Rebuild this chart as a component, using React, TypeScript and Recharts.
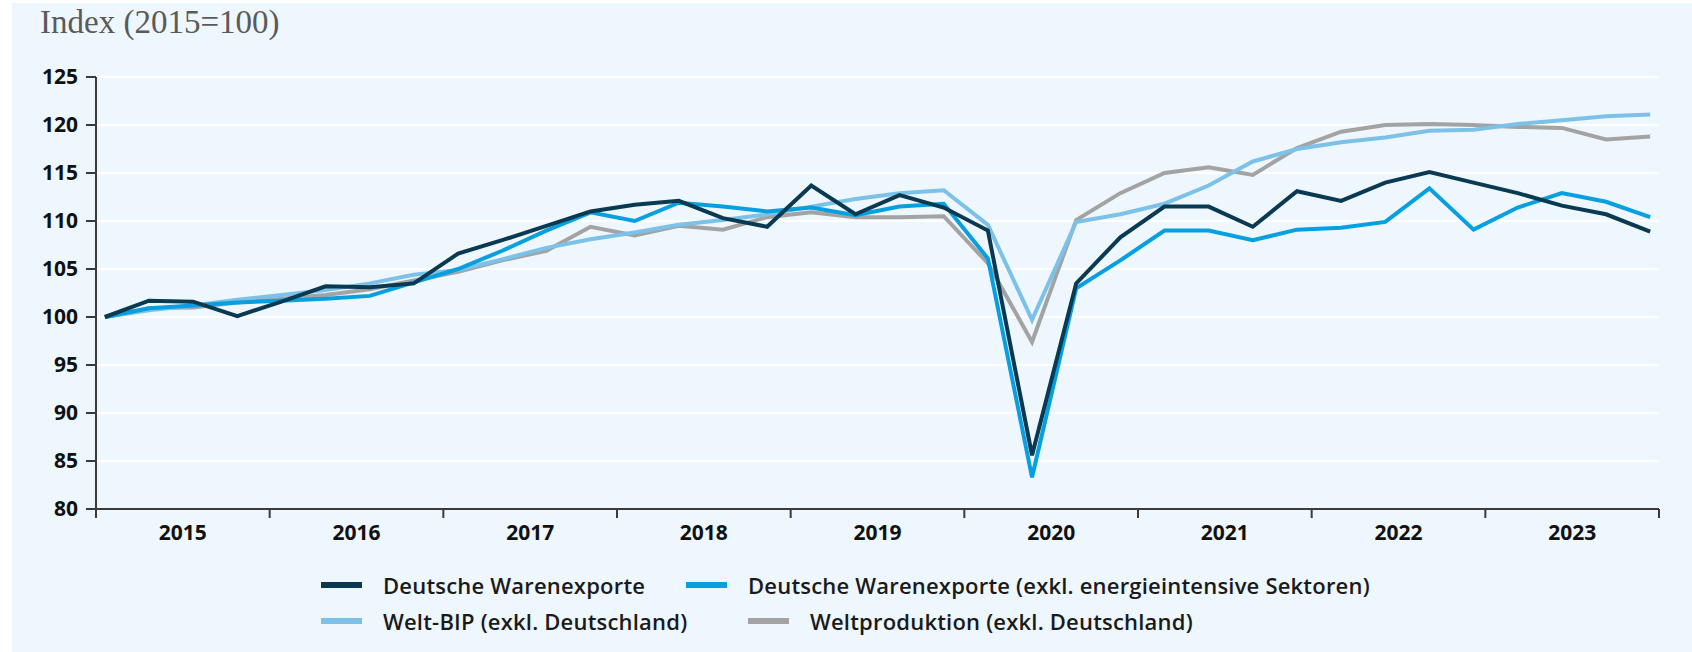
import { LineChart, Line, XAxis, YAxis, CartesianGrid } from 'recharts'

const years = ['2015', '2016', '2017', '2018', '2019', '2020', '2021', '2022', '2023']
const quarters = years.flatMap((y) => ['Q1', 'Q2', 'Q3', 'Q4'].map((q) => `${y} ${q}`))

// Deutsche Warenexporte
const exportsTotal = [
  100.0, 101.7, 101.6, 100.1, 101.6, 103.2, 103.1, 103.5,
  106.6, 108.0, 109.5, 111.0, 111.7, 112.1, 110.3, 109.4,
  113.7, 110.7, 112.7, 111.4, 109.0, 85.6, 103.5, 108.3,
  111.5, 111.5, 109.4, 113.1, 112.1, 114.0, 115.1, 114.0,
  112.9, 111.6, 110.7, 108.9,
]
// Deutsche Warenexporte (exkl. energieintensive Sektoren)
const exportsExcl = [
  100.0, 100.9, 101.2, 101.5, 101.7, 101.9, 102.2, 103.6,
  105.0, 106.9, 109.0, 110.9, 110.0, 111.9, 111.5, 111.0,
  111.4, 110.6, 111.5, 111.8, 106.1, 83.3, 103.0, 105.9,
  109.0, 109.0, 108.0, 109.1, 109.3, 109.9, 113.4, 109.1,
  111.4, 112.9, 112.0, 110.4,
]
// Welt-BIP (exkl. Deutschland)
const worldGdp = [
  100.0, 100.7, 101.2, 101.8, 102.3, 102.8, 103.5, 104.4,
  104.9, 106.0, 107.2, 108.1, 108.8, 109.6, 110.1, 110.7,
  111.5, 112.3, 112.9, 113.2, 109.6, 99.7, 109.9, 110.7,
  111.8, 113.7, 116.2, 117.5, 118.2, 118.7, 119.4, 119.5,
  120.1, 120.5, 120.9, 121.1,
]
// Weltproduktion (exkl. Deutschland)
const worldProd = [
  100.0, 100.9, 101.0, 101.5, 101.9, 102.3, 102.9, 103.8,
  104.7, 105.9, 106.9, 109.4, 108.5, 109.5, 109.1, 110.4,
  110.9, 110.4, 110.4, 110.5, 105.6, 97.4, 110.1, 112.9,
  115.0, 115.6, 114.8, 117.6, 119.3, 120.0, 120.1, 120.0,
  119.8, 119.7, 118.5, 118.8,
]

const yTicks = [80, 85, 90, 95, 100, 105, 110, 115, 120, 125]

const data = quarters.map((label, i) => ({
  idx: i,
  label,
  exportsTotal: exportsTotal[i],
  exportsExcl: exportsExcl[i],
  worldGdp: worldGdp[i],
  worldProd: worldProd[i],
}))

// x range is a bit wider than the data so the year ticks sit outside the first/last quarter
const X_MIN = -0.2
const X_MAX = 35.2
const YEAR_SPAN = (X_MAX - X_MIN) / years.length
const yearEdges = [...years.map((_, i) => X_MIN + i * YEAR_SPAN), X_MAX]
const yearMids = years.map((_, i) => X_MIN + (i + 0.5) * YEAR_SPAN)

const COLORS = {
  exportsTotal: '#0a3a52',
  exportsExcl: '#069fe0',
  worldGdp: '#7cc2e8',
  worldProd: '#a3a3a3',
}

const legendItems = [
  { key: 'exportsTotal', name: 'Deutsche Warenexporte', left: 309, top: 567 },
  { key: 'exportsExcl', name: 'Deutsche Warenexporte (exkl. energieintensive Sektoren)', left: 674, top: 567 },
  { key: 'worldGdp', name: 'Welt-BIP (exkl. Deutschland)', left: 309, top: 603 },
  { key: 'worldProd', name: 'Weltproduktion (exkl. Deutschland)', left: 736, top: 603 },
]

const tickFont = { fontFamily: "'Open Sans', sans-serif", fontWeight: 700, fontSize: 21, fill: '#111' }
const axisStroke = { stroke: '#3b3b3b', strokeWidth: 2 }

export default function App() {
  return (
    <div
      style={{
        position: 'absolute',
        left: 12,
        top: 3,
        width: 1680,
        height: 649,
        background: '#eef6fe',
        fontFamily: "'Open Sans', sans-serif",
      }}
    >
      <div
        style={{
          position: 'absolute',
          left: 28,
          top: 0,
          fontFamily: "'Liberation Serif', serif",
          fontSize: 33,
          color: '#5a5a5a',
          lineHeight: '38px',
        }}
      >
        Index (2015=100)
      </div>

      <LineChart
        width={1680}
        height={546}
        data={data}
        margin={{ top: 74, right: 33, left: 24, bottom: 0 }}
        style={{ position: 'absolute', left: 0, top: 0 }}
      >
        <CartesianGrid horizontal vertical={false} stroke="#ffffff" strokeWidth={2} />
        <XAxis
          dataKey="idx"
          type="number"
          domain={[X_MIN, X_MAX]}
          ticks={yearEdges}
          tickFormatter={() => ''}
          height={10}
          tickSize={9}
          axisLine={axisStroke}
          tickLine={axisStroke}
          interval={0}
        />
        <XAxis
          xAxisId="years"
          dataKey="idx"
          type="number"
          domain={[X_MIN, X_MAX]}
          ticks={yearMids}
          tickFormatter={(v: number) => years[yearMids.indexOf(v)] ?? ''}
          height={30}
          tickSize={0}
          tickMargin={6}
          axisLine={false}
          tickLine={false}
          interval={0}
          tick={tickFont}
        />
        <YAxis
          domain={[80, 125]}
          ticks={yTicks}
          width={60}
          tickSize={10}
          tickMargin={8}
          axisLine={axisStroke}
          tickLine={axisStroke}
          interval={0}
          tick={tickFont}
        />
        <Line dataKey="worldProd" name="Weltproduktion (exkl. Deutschland)" stroke={COLORS.worldProd} strokeWidth={4} dot={false} isAnimationActive={false} />
        <Line dataKey="worldGdp" name="Welt-BIP (exkl. Deutschland)" stroke={COLORS.worldGdp} strokeWidth={4} dot={false} isAnimationActive={false} />
        <Line dataKey="exportsExcl" name="Deutsche Warenexporte (exkl. energieintensive Sektoren)" stroke={COLORS.exportsExcl} strokeWidth={4} dot={false} isAnimationActive={false} />
        <Line dataKey="exportsTotal" name="Deutsche Warenexporte" stroke={COLORS.exportsTotal} strokeWidth={4} dot={false} isAnimationActive={false} />
      </LineChart>

      {legendItems.map((item) => (
        <div
          key={item.key}
          style={{
            position: 'absolute',
            left: item.left,
            top: item.top,
            height: 30,
            display: 'flex',
            alignItems: 'center',
            whiteSpace: 'nowrap',
          }}
        >
          <span style={{ display: 'inline-block', width: 41, height: 6, background: COLORS[item.key as keyof typeof COLORS] }} />
          <span style={{ marginLeft: 21, fontSize: 22, fontWeight: 600, letterSpacing: 0.2, color: '#1a1a1a' }}>{item.name}</span>
        </div>
      ))}
    </div>
  )
}
